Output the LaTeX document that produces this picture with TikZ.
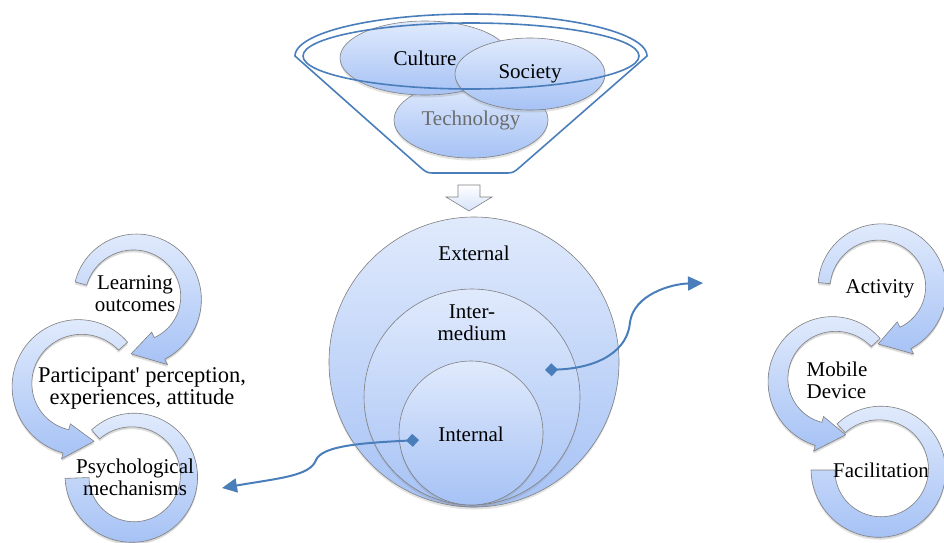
\documentclass[tikz,border=0pt]{standalone}
\usepackage{fontspec}
\setmainfont{Liberation Serif}
\usepackage{tikz}
\usetikzlibrary{shapes.geometric,arrows.meta,shadows}
\definecolor{paleblue}{HTML}{E0EAFC}
\definecolor{deepblue}{HTML}{A6C2F5}
\definecolor{linkblue}{HTML}{4A7EBB}
\definecolor{rimgray}{HTML}{7F7F7F}
\tikzstyle{disc} = [draw=rimgray, line width=0.6pt, top color=paleblue, bottom color=deepblue, drop shadow={opacity=0.22, shadow xshift=0pt, shadow yshift=-2.5pt}]
\tikzstyle{blob} = [ellipse, disc]
\tikzstyle{band} = [disc, drop shadow={opacity=0.15, shadow xshift=0.5pt, shadow yshift=-1.5pt}]
\tikzstyle{rim} = [draw=linkblue, line width=1.6pt]
\tikzstyle{link} = [draw=linkblue, line width=2pt, {Diamond[length=13pt,width=13pt]}-{Triangle[length=15pt,width=14pt]}]
% bent band with a head: cx, cy, tail angle, head base angle, tip angle, radius
\newcommand{\loopy}[6]{%
  \path[band] plot[domain=#3:#4,samples=70] ({#1+(#6+6+6*(\x-(#3))/((#4)-(#3)))*cos(\x)},{#2-(#6+6+6*(\x-(#3))/((#4)-(#3)))*sin(\x)})
    -- ({#1+(#6+18)*cos(#4)},{#2-(#6+18)*sin(#4)})
    -- ({#1+(#6)*cos(#5)},{#2-(#6)*sin(#5)})
    -- ({#1+(#6-18)*cos(#4)},{#2-(#6-18)*sin(#4)})
    -- plot[domain=#4:#3,samples=70] ({#1+(#6-6-6*(\x-(#3))/((#4)-(#3)))*cos(\x)},{#2-(#6-6-6*(\x-(#3))/((#4)-(#3)))*sin(\x)})
    -- cycle;}
% bent band without a head: cx, cy, start angle, end angle, radius
\newcommand{\loopend}[5]{%
  \path[band] plot[domain=#3:#4,samples=70] ({#1+(#5+6+6*(\x-(#3))/((#4)-(#3)))*cos(\x)},{#2-(#5+6+6*(\x-(#3))/((#4)-(#3)))*sin(\x)})
    -- plot[domain=#4:#3,samples=70] ({#1+(#5-6-6*(\x-(#3))/((#4)-(#3)))*cos(\x)},{#2-(#5-6-6*(\x-(#3))/((#4)-(#3)))*sin(\x)})
    -- cycle;}
\begin{document}
\begin{tikzpicture}[x=1pt, y=-1pt, every node/.style={font=\fontsize{21}{22}\selectfont, align=center, inner sep=0pt}]
\useasboundingbox (0,0) rectangle (944,542);
\node[blob, minimum width=154pt, minimum height=76pt, text=gray!85!black] (tech) at (471,120) {Technology};
\node[blob, minimum width=170pt, minimum height=74pt] (culture) at (425,58) {Culture};
\node[blob, minimum width=150pt, minimum height=72pt] (society) at (530,74) {Society};
\draw[rim] plot[domain=180:0, samples=80] ({471+176*cos(\x)},{56-42*sin(\x)}) -- (520,167) .. controls (513,173) .. (504,173) -- (436,173) .. controls (427,173) .. (420,167) -- cycle;
\draw[rim] (471,56) ellipse (168 and 33);
\draw[draw=rimgray, line width=0.6pt, top color=white, bottom color=paleblue!80!deepblue] (458,185) -- (480,185) -- (480,197) -- (492,197) -- (469,211) -- (446,197) -- (458,197) -- cycle;
\draw[disc] (474,362) circle (145);
\draw[disc] (472,397) circle (108);
\draw[disc] (471,433) circle (72);
\node (ext) at (474,253) {External};
\node (inter) at (472,323) {Inter-\\medium};
\node (int) at (471,434) {Internal};
\loopend{133}{476}{132}{-178}{56}
\loopy{80}{385}{42}{256}{284}{58}
\loopy{135}{298}{165}{-64}{-94}{56}
\node (learn) at (135,294) {Learning\\outcomes};
\node[font=\fontsize{22.5}{22}\selectfont] (percep) at (142,388) {Participant\textquotesingle{} perception,\\experiences, attitude};
\node (psych) at (135,477) {Psychological\\mechanisms};
\loopend{880}{470}{133}{-180}{57}
\loopy{834}{380}{42}{254}{282}{56}
\loopy{880}{288}{175}{-63}{-92}{56}
\node (activ) at (880,289) {Activity};
\node[align=left] (mobile) at (837,380) {Mobile\\Device};
\node (facil) at (881,470) {Facilitation};
\coordinate (midjoint) at (545,370);
\coordinate (rightend) at (703,283);
\coordinate (innerjoint) at (419,440);
\coordinate (leftend) at (222,488);
\draw[link] (midjoint) .. controls (600,368) and (628,350) .. (630,322) .. controls (634,295) and (670,284) .. (rightend);
\draw[link] (innerjoint) .. controls (360,443) and (322,446) .. (316,460) .. controls (310,476) and (280,478) .. (leftend);
\end{tikzpicture}
\end{document}
